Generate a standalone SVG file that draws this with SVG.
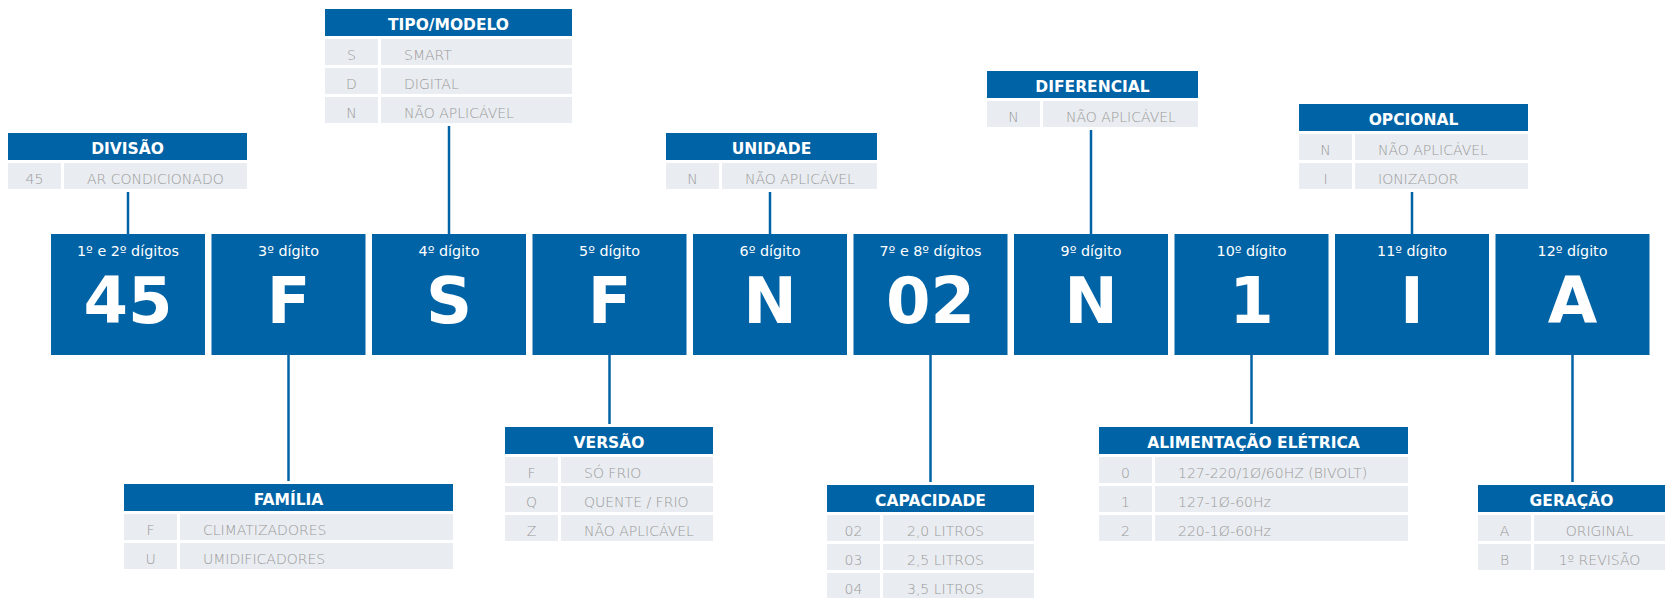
<svg xmlns="http://www.w3.org/2000/svg" width="1665" height="598" viewBox="0 0 1665 598">
<style>
.bg{fill:#ffffff}
.box{fill:#0063a6}
.hd{fill:#0063a6}
.cell{fill:#e9ecf0}
.lbl{font-family:"DejaVu Sans",sans-serif;font-size:14.3px;fill:#ffffff;text-anchor:middle}
.big{font-family:"DejaVu Sans",sans-serif;font-weight:bold;font-size:64px;fill:#ffffff;text-anchor:middle}
.ht{font-family:"DejaVu Sans",sans-serif;font-weight:bold;font-size:15.5px;fill:#ffffff;text-anchor:middle}
.c1{font-family:"DejaVu Sans",sans-serif;font-weight:300;font-size:14px;fill:#999999;text-anchor:middle}
.c2{font-family:"DejaVu Sans",sans-serif;font-weight:300;font-size:14px;fill:#999999}
.c2m{font-family:"DejaVu Sans",sans-serif;font-weight:300;font-size:14px;fill:#999999;text-anchor:middle}
.ln{stroke:#0063a6;stroke-width:2.5;fill:none}
</style>
<rect class="bg" x="0" y="0" width="1665" height="598"/>

<g id="connectors">
<line class="ln" x1="128" y1="192" x2="128" y2="234"/>
<line class="ln" x1="449" y1="126" x2="449" y2="234"/>
<line class="ln" x1="770" y1="192" x2="770" y2="234"/>
<line class="ln" x1="1091" y1="130" x2="1091" y2="234"/>
<line class="ln" x1="1412" y1="192" x2="1412" y2="234"/>
<line class="ln" x1="288.5" y1="355" x2="288.5" y2="481"/>
<line class="ln" x1="609.5" y1="355" x2="609.5" y2="424"/>
<line class="ln" x1="930.5" y1="355" x2="930.5" y2="482"/>
<line class="ln" x1="1251.5" y1="355" x2="1251.5" y2="424"/>
<line class="ln" x1="1572.5" y1="355" x2="1572.5" y2="482"/>
</g>

<!-- digit boxes -->
<g id="d1"><rect class="box" x="51" y="234" width="154" height="121"/><text class="lbl" x="128" y="256">1º e 2º dígitos</text><text class="big" x="128" y="323">45</text></g>
<g id="d3"><rect class="box" x="211.5" y="234" width="154" height="121"/><text class="lbl" x="288.5" y="256">3º dígito</text><text class="big" x="288.5" y="323">F</text></g>
<g id="d4"><rect class="box" x="372" y="234" width="154" height="121"/><text class="lbl" x="449" y="256">4º dígito</text><text class="big" x="449" y="323">S</text></g>
<g id="d5"><rect class="box" x="532.5" y="234" width="154" height="121"/><text class="lbl" x="609.5" y="256">5º dígito</text><text class="big" x="609.5" y="323">F</text></g>
<g id="d6"><rect class="box" x="693" y="234" width="154" height="121"/><text class="lbl" x="770" y="256">6º dígito</text><text class="big" x="770" y="323">N</text></g>
<g id="d7"><rect class="box" x="853.5" y="234" width="154" height="121"/><text class="lbl" x="930.5" y="256">7º e 8º dígitos</text><text class="big" x="930.5" y="323">02</text></g>
<g id="d9"><rect class="box" x="1014" y="234" width="154" height="121"/><text class="lbl" x="1091" y="256">9º dígito</text><text class="big" x="1091" y="323">N</text></g>
<g id="d10"><rect class="box" x="1174.5" y="234" width="154" height="121"/><text class="lbl" x="1251.5" y="256">10º dígito</text><text class="big" x="1251.5" y="323">1</text></g>
<g id="d11"><rect class="box" x="1335" y="234" width="154" height="121"/><text class="lbl" x="1412" y="256">11º dígito</text><text class="big" x="1412" y="323">I</text></g>
<g id="d12"><rect class="box" x="1495.5" y="234" width="154" height="121"/><text class="lbl" x="1572.5" y="256">12º dígito</text><text class="big" x="1572.5" y="323">A</text></g>

<!-- tables -->
<g id="divisao">
<rect class="hd" x="8" y="133" width="239" height="27"/><text class="ht" x="127.5" y="154">DIVISÃO</text>
<rect class="cell" x="8" y="163" width="53" height="26"/><rect class="cell" x="64" y="163" width="183" height="26"/>
<text class="c1" x="34.5" y="184">45</text><text class="c2" x="87" y="184">AR CONDICIONADO</text>
</g>

<g id="tipo">
<rect class="hd" x="325" y="9" width="247" height="27"/><text class="ht" x="448.5" y="30">TIPO/MODELO</text>
<rect class="cell" x="325" y="39" width="53" height="26"/><rect class="cell" x="381" y="39" width="191" height="26"/>
<text class="c1" x="351.5" y="60">S</text><text class="c2" x="404" y="60">SMART</text>
<rect class="cell" x="325" y="68" width="53" height="26"/><rect class="cell" x="381" y="68" width="191" height="26"/>
<text class="c1" x="351.5" y="89">D</text><text class="c2" x="404" y="89">DIGITAL</text>
<rect class="cell" x="325" y="97" width="53" height="26"/><rect class="cell" x="381" y="97" width="191" height="26"/>
<text class="c1" x="351.5" y="118">N</text><text class="c2" x="404" y="118">NÃO APLICÁVEL</text>
</g>

<g id="unidade">
<rect class="hd" x="666" y="133" width="211" height="27"/><text class="ht" x="771.5" y="154">UNIDADE</text>
<rect class="cell" x="666" y="163" width="53" height="26"/><rect class="cell" x="722" y="163" width="155" height="26"/>
<text class="c1" x="692.5" y="184">N</text><text class="c2" x="745" y="184">NÃO APLICÁVEL</text>
</g>

<g id="diferencial">
<rect class="hd" x="987" y="71" width="211" height="27"/><text class="ht" x="1092.5" y="92">DIFERENCIAL</text>
<rect class="cell" x="987" y="101" width="53" height="26"/><rect class="cell" x="1043" y="101" width="155" height="26"/>
<text class="c1" x="1013.5" y="122">N</text><text class="c2" x="1066" y="122">NÃO APLICÁVEL</text>
</g>

<g id="opcional">
<rect class="hd" x="1299" y="104" width="229" height="27"/><text class="ht" x="1413.5" y="125">OPCIONAL</text>
<rect class="cell" x="1299" y="134" width="53" height="26"/><rect class="cell" x="1355" y="134" width="173" height="26"/>
<text class="c1" x="1325.5" y="155">N</text><text class="c2" x="1378" y="155">NÃO APLICÁVEL</text>
<rect class="cell" x="1299" y="163" width="53" height="26"/><rect class="cell" x="1355" y="163" width="173" height="26"/>
<text class="c1" x="1325.5" y="184">I</text><text class="c2" x="1378" y="184">IONIZADOR</text>
</g>

<g id="familia">
<rect class="hd" x="124" y="484" width="329" height="27"/><text class="ht" x="288.5" y="505">FAMÍLIA</text>
<rect class="cell" x="124" y="514" width="53" height="26"/><rect class="cell" x="180" y="514" width="273" height="26"/>
<text class="c1" x="150.5" y="535">F</text><text class="c2" x="203" y="535">CLIMATIZADORES</text>
<rect class="cell" x="124" y="543" width="53" height="26"/><rect class="cell" x="180" y="543" width="273" height="26"/>
<text class="c1" x="150.5" y="564">U</text><text class="c2" x="203" y="564">UMIDIFICADORES</text>
</g>

<g id="versao">
<rect class="hd" x="505" y="427" width="208" height="27"/><text class="ht" x="609" y="448">VERSÃO</text>
<rect class="cell" x="505" y="457" width="53" height="26"/><rect class="cell" x="561" y="457" width="152" height="26"/>
<text class="c1" x="531.5" y="478">F</text><text class="c2" x="584" y="478">SÓ FRIO</text>
<rect class="cell" x="505" y="486" width="53" height="26"/><rect class="cell" x="561" y="486" width="152" height="26"/>
<text class="c1" x="531.5" y="507">Q</text><text class="c2" x="584" y="507">QUENTE / FRIO</text>
<rect class="cell" x="505" y="515" width="53" height="26"/><rect class="cell" x="561" y="515" width="152" height="26"/>
<text class="c1" x="531.5" y="536">Z</text><text class="c2" x="584" y="536">NÃO APLICÁVEL</text>
</g>

<g id="capacidade">
<rect class="hd" x="827" y="485" width="207" height="27"/><text class="ht" x="930.5" y="506">CAPACIDADE</text>
<rect class="cell" x="827" y="515" width="53" height="26"/><rect class="cell" x="883" y="515" width="151" height="26"/>
<text class="c1" x="853.5" y="536">02</text><text class="c2" x="907" y="536">2,0 LITROS</text>
<rect class="cell" x="827" y="544" width="53" height="26"/><rect class="cell" x="883" y="544" width="151" height="26"/>
<text class="c1" x="853.5" y="565">03</text><text class="c2" x="907" y="565">2,5 LITROS</text>
<rect class="cell" x="827" y="573" width="53" height="26"/><rect class="cell" x="883" y="573" width="151" height="26"/>
<text class="c1" x="853.5" y="594">04</text><text class="c2" x="907" y="594">3,5 LITROS</text>
</g>

<g id="alimentacao">
<rect class="hd" x="1099" y="427" width="309" height="27"/><text class="ht" x="1253.5" y="448">ALIMENTAÇÃO ELÉTRICA</text>
<rect class="cell" x="1099" y="457" width="53" height="26"/><rect class="cell" x="1155" y="457" width="253" height="26"/>
<text class="c1" x="1125.5" y="478">0</text><text class="c2" x="1178" y="478">127-220/1Ø/60HZ (BIVOLT)</text>
<rect class="cell" x="1099" y="486" width="53" height="26"/><rect class="cell" x="1155" y="486" width="253" height="26"/>
<text class="c1" x="1125.5" y="507">1</text><text class="c2" x="1178" y="507">127-1Ø-60Hz</text>
<rect class="cell" x="1099" y="515" width="53" height="26"/><rect class="cell" x="1155" y="515" width="253" height="26"/>
<text class="c1" x="1125.5" y="536">2</text><text class="c2" x="1178" y="536">220-1Ø-60Hz</text>
</g>

<g id="geracao">
<rect class="hd" x="1478" y="485" width="187" height="27"/><text class="ht" x="1571.5" y="506">GERAÇÃO</text>
<rect class="cell" x="1478" y="515" width="53" height="26"/><rect class="cell" x="1534" y="515" width="131" height="26"/>
<text class="c1" x="1504.5" y="536">A</text><text class="c2m" x="1599.5" y="536">ORIGINAL</text>
<rect class="cell" x="1478" y="544" width="53" height="26"/><rect class="cell" x="1534" y="544" width="131" height="26"/>
<text class="c1" x="1504.5" y="565">B</text><text class="c2m" x="1599.5" y="565">1º REVISÃO</text>
</g>
</svg>
